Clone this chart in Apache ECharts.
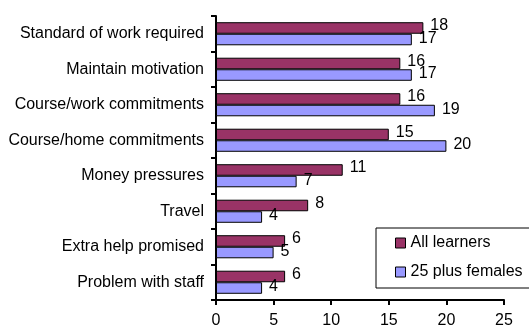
<!DOCTYPE html>
<html>
<head>
<meta charset="utf-8">
<script src="https://cdn.jsdelivr.net/npm/echarts@6/dist/echarts.min.js"></script>
<style>
  html, body { margin: 0; padding: 0; background: #fff; }
  #chart { width: 529px; height: 327px; }
</style>
</head>
<body>
<div id="chart"></div>
<script>
// Reasons given, top to bottom
const categories = [
  'Standard of work required',
  'Maintain motivation',
  'Course/work commitments',
  'Course/home commitments',
  'Money pressures',
  'Travel',
  'Extra help promised',
  'Problem with staff'
];
const allLearners = [18, 16, 16, 15, 11, 8, 6, 6];
const plusFemales = [17, 17, 19, 20, 7, 4, 5, 4];
const xTicks = [0, 5, 10, 15, 20, 25];

const FONT = '"Liberation Sans", Arial, sans-serif';

const chart = echarts.init(document.getElementById('chart'), null, { renderer: 'canvas' });

function barSeries(name, data, color, labelDy) {
  return {
    name: name,
    type: 'bar',
    data: data,
    barGap: '0%',
    barCategoryGap: '35%',
    itemStyle: { color: color, borderColor: '#000', borderWidth: 1 },
    label: {
      show: true,
      position: 'right',
      distance: 7,
      offset: [0, labelDy],
      color: '#000',
      fontFamily: FONT,
      fontSize: 16
    },
    emphasis: { disabled: true },
    animation: false
  };
}

chart.setOption({
  animation: false,
  backgroundColor: '#fff',
  grid: {
    left: 216, right: 25, top: 16, bottom: 27,
    containLabel: false,
    outerBoundsMode: 'none'
  },
  legend: {
    orient: 'vertical',
    left: 376,
    top: 228,
    padding: [7, 7, 8, 19],
    itemGap: 13,
    itemWidth: 10,
    itemHeight: 10,
    borderColor: '#000',
    borderWidth: 1,
    backgroundColor: '#fff',
    icon: 'rect',
    itemStyle: { borderColor: '#000', borderWidth: 1 },
    textStyle: { color: '#000', fontFamily: FONT, fontSize: 16, lineHeight: 16 },
    data: ['All learners', '25 plus females']
  },
  xAxis: {
    type: 'value',
    min: xTicks[0],
    max: xTicks[xTicks.length - 1],
    interval: xTicks[1] - xTicks[0],
    axisLine: { show: true, lineStyle: { color: '#000', width: 2 } },
    axisTick: { show: true, length: 5, lineStyle: { color: '#000', width: 2 } },
    axisLabel: { color: '#000', fontFamily: FONT, fontSize: 16, margin: 13 },
    splitLine: { show: false }
  },
  yAxis: {
    type: 'category',
    data: categories,
    inverse: true,
    axisLine: { show: true, lineStyle: { color: '#000', width: 2 } },
    axisTick: { show: true, length: 5, lineStyle: { color: '#000', width: 2 } },
    axisLabel: { color: '#000', fontFamily: FONT, fontSize: 16, margin: 12 }
  },
  series: [
    barSeries('All learners', allLearners, '#993366', -2),
    barSeries('25 plus females', plusFemales, '#9999FF', -1)
  ]
});
</script>
</body>
</html>
